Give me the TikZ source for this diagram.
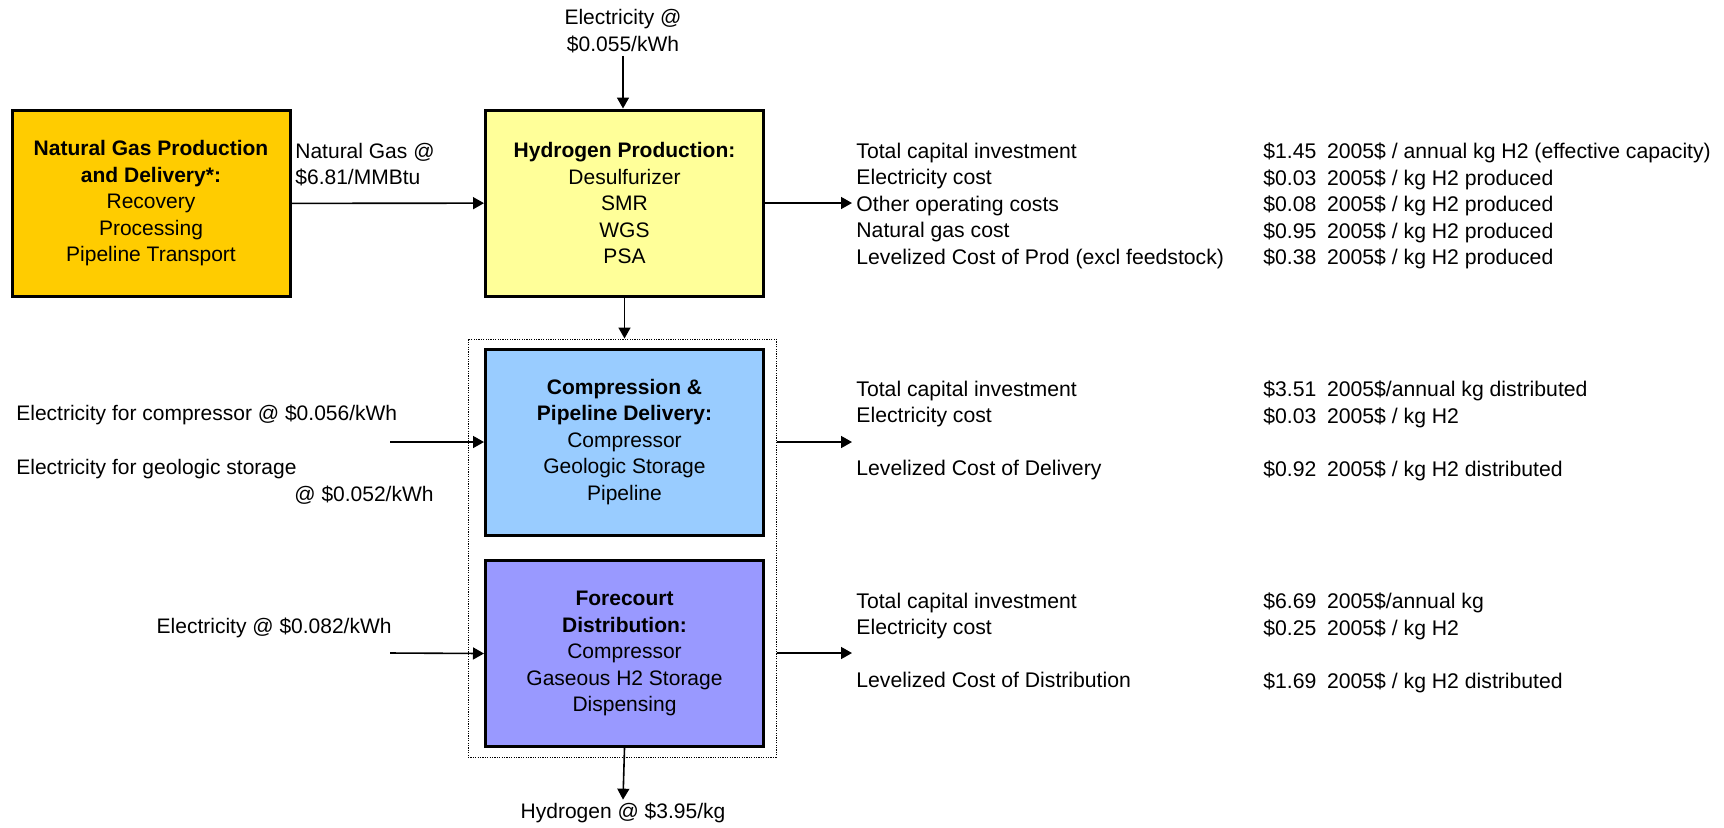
\documentclass[tikz,border=0pt]{standalone}
\usepackage{fontspec}
\setmainfont{Liberation Sans}
\usepackage{xcolor}
\usetikzlibrary{arrows.meta, positioning}

\definecolor{gasorange}{HTML}{FFCC00}
\definecolor{prodyellow}{HTML}{FFFF99}
\definecolor{pipeblue}{HTML}{99CCFF}
\definecolor{courtviolet}{HTML}{9999FF}

\begin{document}
\begin{tikzpicture}[
    x=0.5pt, y=-0.5pt,
    every node/.style={font=\fontsize{10.5}{13.25}\selectfont, inner sep=0pt},
    stage/.style={rectangle, draw=black, line width=1.5pt, minimum width=139pt, minimum height=93pt, align=center},
    groupbox/.style={rectangle, draw=black, line width=0.5pt, dash pattern=on 0.6pt off 0.6pt, minimum width=154pt, minimum height=209pt},
    flowtext/.style={align=center, inner sep=1.5pt},
    cost/.style={align=left, anchor=north west, font=\fontsize{10.6}{13.25}\selectfont},
    arrow/.style={-{Triangle[length=5.5pt,width=6pt]}, line width=0.8pt, draw=black}
]
\useasboundingbox (0,0) rectangle (1724,827);

% Stages
\node[stage, fill=gasorange] (ngbox) at (151,203.5) {\textbf{Natural Gas Production}\\\textbf{and Delivery*:}\\Recovery\\Processing\\Pipeline Transport};
\node[stage, fill=prodyellow] (h2prod) at (624.5,203) {\textbf{Hydrogen Production:}\\Desulfurizer\\SMR\\WGS\\PSA};
\node[groupbox] (group) at (622,548) {};
\node[stage, fill=pipeblue] (cpd) at (624.5,442) {\textbf{Compression \&}\\\textbf{Pipeline Delivery:}\\Compressor\\Geologic Storage\\Pipeline};
\node[stage, fill=courtviolet] (fcd) at (624.5,653.5) {\textbf{Forecourt}\\\textbf{Distribution:}\\Compressor\\Gaseous H2 Storage\\Dispensing};

% Inputs and output
\node[flowtext] (elec) at (623,31) {Electricity @\\\$0.055/kWh};
\node[flowtext, anchor=west, align=left] (ngprice) at (292,164.5) {Natural Gas @\\\$6.81/MMBtu};
\node[anchor=west] (elcomp) at (16,415) {Electricity for compressor @ \$0.056/kWh};
\node[anchor=west] (elgeo) at (16,469) {Electricity for geologic storage};
\node[anchor=east] (elgeoat) at (434,495) {@ \$0.052/kWh};
\node[anchor=east] (elfore) at (392,628) {Electricity @ \$0.082/kWh};
\node[flowtext] (h2price) at (623,813) {Hydrogen @ \$3.95/kg};

\coordinate (cpdin) at (390,442);
\coordinate (fcdin) at (390,653);
\coordinate (h2out) at (852,203);
\coordinate (cpdout) at (852,442);
\coordinate (fcdout) at (852,653);

% Cost results
\node[cost] (h2names) at (856,142.5) {Total capital investment\\Electricity cost\\Other operating costs\\Natural gas cost\\Levelized Cost of Prod (excl feedstock)};
\node[cost] (h2values) at (1263,142.5) {\$1.45\enspace 2005\$ / annual kg H2 (effective capacity)\\\$0.03\enspace 2005\$ / kg H2 produced\\\$0.08\enspace 2005\$ / kg H2 produced\\\$0.95\enspace 2005\$ / kg H2 produced\\\$0.38\enspace 2005\$ / kg H2 produced};
\node[cost] (cpdnames) at (856,380.5) {Total capital investment\\Electricity cost\\[13.25pt]Levelized Cost of Delivery};
\node[cost] (cpdvalues) at (1263,380.5) {\$3.51\enspace 2005\$/annual kg distributed\\\$0.03\enspace 2005\$ / kg H2\\[13.25pt]\$0.92\enspace 2005\$ / kg H2 distributed};
\node[cost] (fcdnames) at (856,592.5) {Total capital investment\\Electricity cost\\[13.25pt]Levelized Cost of Distribution};
\node[cost] (fcdvalues) at (1263,592.5) {\$6.69\enspace 2005\$/annual kg\\\$0.25\enspace 2005\$ / kg H2\\[13.25pt]\$1.69\enspace 2005\$ / kg H2 distributed};

% Connectors
\draw[arrow] (elec.south) -- (elec.south |- h2prod.north);
\draw[arrow] (ngbox) -- (h2prod);
\draw[arrow] (h2prod.east) -- (h2out);
\draw[arrow] (h2prod.south) -- (h2prod.south |- group.north);
\draw[arrow] (cpdin) -- (cpd.west);
\draw[arrow] (fcdin) -- (fcd.west);
\draw[arrow] (group.east |- cpdout) -- (cpdout);
\draw[arrow] (group.east |- fcdout) -- (fcdout);
\draw[arrow] (fcd.south) -- (h2price.north);

\end{tikzpicture}
\end{document}
